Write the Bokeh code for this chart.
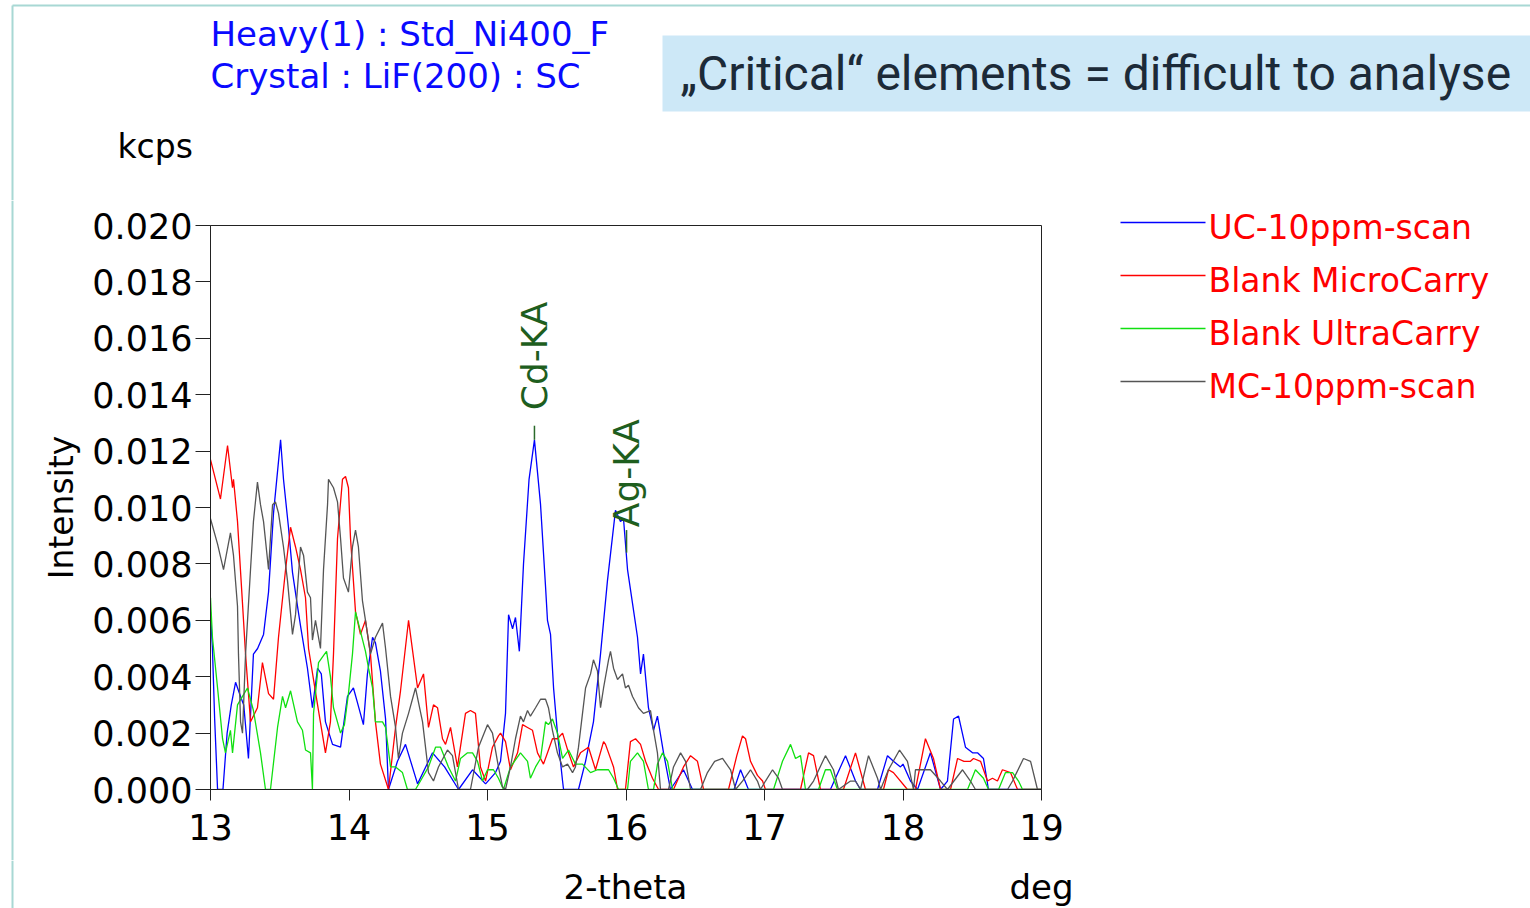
import math
from bokeh.plotting import figure
from bokeh.layouts import column, row
from bokeh.models import FixedTicker, NumeralTickFormatter, Range1d
from bokeh.core.properties import value
from bokeh.embed import file_html
from bokeh.resources import INLINE

# ---------------- data ----------------
x_ticks = [13, 14, 15, 16, 17, 18, 19]
y_ticks = [0.000, 0.002, 0.004, 0.006, 0.008, 0.010, 0.012, 0.014, 0.016, 0.018, 0.020]

series_names = ["UC-10ppm-scan", "Blank MicroCarry", "Blank UltraCarry", "MC-10ppm-scan"]
series_colors = ["#0000ff", "#ff0000", "#10e010", "#555555"]

uc_x = [13.000, 13.014, 13.030, 13.051, 13.090, 13.120, 13.150, 13.181, 13.217, 13.240, 13.274, 13.310, 13.340,
        13.383, 13.419, 13.455, 13.506, 13.527, 13.563, 13.592, 13.628, 13.650, 13.700, 13.736, 13.773, 13.800,
        13.830, 13.881, 13.939, 13.989, 14.032, 14.060, 14.104, 14.133, 14.170, 14.191, 14.227, 14.264, 14.285,
        14.350, 14.408, 14.495, 14.603, 14.690, 14.791, 14.892, 14.986, 15.058, 15.094, 15.130, 15.152, 15.181,
        15.202, 15.230, 15.260, 15.300, 15.339, 15.383, 15.419, 15.433, 15.455, 15.477, 15.505, 15.542, 15.549,
        15.657, 15.708, 15.765, 15.816, 15.866, 15.924, 15.960, 15.982, 16.011, 16.047, 16.083, 16.105, 16.126,
        16.162, 16.199, 16.227, 16.271, 16.321, 16.415, 16.480, 16.780, 16.827, 16.884, 17.476, 17.585, 17.657,
        17.693, 17.816, 17.888, 17.931, 17.982, 18.000, 18.054, 18.105, 18.198, 18.271, 18.321, 18.365, 18.401,
        18.451, 18.502, 18.538, 18.581, 18.617, 19.000]
uc_y = [0.0063, 0.0050, 0.0025, 0.0000, 0.0000, 0.0020, 0.0030, 0.0038, 0.0033, 0.0030, 0.0011, 0.0048, 0.0050,
        0.0055, 0.0070, 0.0098, 0.0124, 0.0110, 0.0093, 0.0077, 0.0065, 0.0058, 0.0043, 0.0029, 0.0043, 0.0041,
        0.0024, 0.0016, 0.0015, 0.0033, 0.0036, 0.0031, 0.0023, 0.0041, 0.0054, 0.0052, 0.0042, 0.0025, 0.0000,
        0.0010, 0.0016, 0.0002, 0.0013, 0.0008, 0.0000, 0.0007, 0.0002, 0.0006, 0.0010, 0.0027, 0.0062, 0.0057,
        0.0061, 0.0049, 0.0080, 0.0110, 0.0124, 0.0101, 0.0072, 0.0060, 0.0055, 0.0036, 0.0020, 0.0003, 0.0000,
        0.0000, 0.0010, 0.0024, 0.0048, 0.0074, 0.0099, 0.0095, 0.0096, 0.0078, 0.0066, 0.0054, 0.0041, 0.0048,
        0.0029, 0.0021, 0.0026, 0.0013, 0.0000, 0.0007, 0.0000, 0.0000, 0.0007, 0.0000, 0.0000, 0.0012, 0.0003,
        0.0000, 0.0000, 0.0012, 0.0010, 0.0008, 0.0009, 0.0003, 0.0000, 0.0013, 0.0000, 0.0003, 0.0025, 0.0026,
        0.0015, 0.0013, 0.0013, 0.0011, 0.0000, 0.0000]

mcb_x = [13.000, 13.072, 13.123, 13.159, 13.166, 13.195, 13.231, 13.253, 13.289, 13.339, 13.375, 13.419, 13.455,
         13.491, 13.542, 13.578, 13.614, 13.650, 13.686, 13.708, 13.773, 13.830, 13.866, 13.888, 13.917, 13.953,
         13.975, 13.996, 14.011, 14.047, 14.083, 14.119, 14.155, 14.191, 14.227, 14.285, 14.336, 14.372, 14.430,
         14.495, 14.538, 14.574, 14.610, 14.639, 14.675, 14.697, 14.733, 14.783, 14.841, 14.877, 14.913, 14.949,
         14.986, 15.036, 15.079, 15.094, 15.130, 15.166, 15.217, 15.253, 15.289, 15.325, 15.361, 15.404, 15.469,
         15.505, 15.542, 15.585, 15.621, 15.671, 15.729, 15.780, 15.838, 15.852, 15.910, 15.939, 15.996, 16.032,
         16.069, 16.105, 16.141, 16.191, 16.235, 16.343, 16.415, 16.466, 16.516, 16.560, 16.740, 16.800, 16.841,
         16.863, 16.899, 16.949, 16.986, 17.007, 17.260, 17.318, 17.354, 17.404, 17.570, 17.657, 17.729, 17.859,
         17.895, 17.931, 18.032, 18.090, 18.162, 18.220, 18.271, 18.343, 18.394, 18.440, 18.487, 18.509, 18.560,
         18.610, 18.646, 18.682, 18.718, 18.776, 18.827, 19.000]
mcb_y = [0.0117, 0.0103, 0.0122, 0.0107, 0.0110, 0.0095, 0.0066, 0.0048, 0.0024, 0.0029, 0.0045, 0.0034, 0.0032,
         0.0054, 0.0078, 0.0093, 0.0086, 0.0078, 0.0068, 0.0050, 0.0030, 0.0013, 0.0024, 0.0048, 0.0089, 0.0110,
         0.0111, 0.0107, 0.0089, 0.0063, 0.0055, 0.0060, 0.0048, 0.0024, 0.0009, 0.0000, 0.0022, 0.0035, 0.0060,
         0.0036, 0.0041, 0.0022, 0.0030, 0.0029, 0.0018, 0.0016, 0.0022, 0.0008, 0.0027, 0.0028, 0.0027, 0.0008,
         0.0003, 0.0015, 0.0019, 0.0020, 0.0017, 0.0007, 0.0013, 0.0023, 0.0022, 0.0021, 0.0013, 0.0009, 0.0018,
         0.0018, 0.0020, 0.0013, 0.0008, 0.0013, 0.0015, 0.0007, 0.0017, 0.0016, 0.0008, 0.0000, 0.0000, 0.0017,
         0.0018, 0.0016, 0.0010, 0.0004, 0.0000, 0.0000, 0.0008, 0.0012, 0.0010, 0.0000, 0.0000, 0.0012, 0.0019,
         0.0018, 0.0010, 0.0005, 0.0003, 0.0000, 0.0000, 0.0013, 0.0012, 0.0000, 0.0000, 0.0013, 0.0000, 0.0000,
         0.0007, 0.0006, 0.0000, 0.0000, 0.0018, 0.0011, 0.0000, 0.0000, 0.0011, 0.0010, 0.0010, 0.0011, 0.0010,
         0.0003, 0.0004, 0.0003, 0.0007, 0.0006, 0.0000, 0.0000]

ucb_x = [13.000, 13.014, 13.051, 13.087, 13.108, 13.144, 13.159, 13.195, 13.231, 13.267, 13.310, 13.361, 13.397,
         13.433, 13.484, 13.520, 13.542, 13.578, 13.628, 13.664, 13.686, 13.722, 13.736, 13.744, 13.780, 13.809,
         13.838, 13.866, 13.888, 13.939, 13.967, 13.996, 14.025, 14.047, 14.083, 14.119, 14.141, 14.170, 14.191,
         14.242, 14.264, 14.300, 14.336, 14.386, 14.422, 14.480, 14.516, 14.574, 14.625, 14.661, 14.718, 14.769,
         14.805, 14.856, 14.892, 14.928, 14.964, 15.000, 15.043, 15.079, 15.115, 15.166, 15.238, 15.289, 15.310,
         15.347, 15.383, 15.419, 15.440, 15.469, 15.505, 15.542, 15.585, 15.635, 15.686, 15.744, 15.794, 15.874,
         15.910, 15.946, 16.011, 16.032, 16.083, 16.126, 16.162, 16.199, 16.227, 16.264, 16.300, 16.336, 17.065,
         17.130, 17.188, 17.224, 17.260, 17.296, 17.390, 17.440, 17.476, 17.527, 18.466, 18.523, 18.581, 18.617,
         18.690, 18.740, 18.791, 18.834, 18.863, 19.000]
ucb_y = [0.0068, 0.0054, 0.0036, 0.0018, 0.0013, 0.0021, 0.0013, 0.0030, 0.0033, 0.0036, 0.0028, 0.0013, 0.0000,
         0.0000, 0.0022, 0.0033, 0.0029, 0.0035, 0.0024, 0.0021, 0.0014, 0.0013, 0.0000, 0.0027, 0.0045, 0.0047,
         0.0049, 0.0040, 0.0029, 0.0020, 0.0023, 0.0034, 0.0048, 0.0063, 0.0056, 0.0049, 0.0043, 0.0036, 0.0024,
         0.0024, 0.0022, 0.0008, 0.0008, 0.0006, 0.0000, 0.0000, 0.0003, 0.0008, 0.0015, 0.0015, 0.0008, 0.0003,
         0.0011, 0.0013, 0.0013, 0.0010, 0.0003, 0.0007, 0.0007, 0.0004, 0.0000, 0.0008, 0.0013, 0.0010, 0.0004,
         0.0008, 0.0011, 0.0024, 0.0023, 0.0025, 0.0020, 0.0011, 0.0014, 0.0009, 0.0009, 0.0006, 0.0007, 0.0007,
         0.0004, 0.0000, 0.0000, 0.0010, 0.0013, 0.0010, 0.0000, 0.0000, 0.0009, 0.0013, 0.0010, 0.0000, 0.0000,
         0.0010, 0.0016, 0.0011, 0.0012, 0.0000, 0.0000, 0.0007, 0.0007, 0.0000, 0.0000, 0.0007, 0.0004, 0.0000,
         0.0000, 0.0006, 0.0006, 0.0003, 0.0000, 0.0000]

mc_x = [13.000, 13.051, 13.094, 13.144, 13.166, 13.195, 13.202, 13.217, 13.231, 13.253, 13.289, 13.310, 13.339,
        13.361, 13.383, 13.419, 13.448, 13.469, 13.491, 13.527, 13.556, 13.592, 13.614, 13.650, 13.672, 13.700,
        13.722, 13.736, 13.758, 13.794, 13.816, 13.845, 13.852, 13.888, 13.917, 13.939, 13.960, 13.996, 14.025,
        14.047, 14.068, 14.097, 14.119, 14.155, 14.191, 14.242, 14.264, 14.300, 14.336, 14.357, 14.386, 14.430,
        14.480, 14.531, 14.574, 14.610, 14.646, 14.711, 14.747, 14.791, 14.877, 14.935, 15.000, 15.036, 15.079,
        15.108, 15.130, 15.166, 15.202, 15.238, 15.260, 15.289, 15.310, 15.347, 15.383, 15.419, 15.440, 15.469,
        15.505, 15.542, 15.578, 15.614, 15.635, 15.657, 15.686, 15.708, 15.744, 15.765, 15.794, 15.816, 15.838,
        15.874, 15.888, 15.910, 15.939, 15.975, 15.996, 16.018, 16.047, 16.090, 16.126, 16.177, 16.199, 16.227,
        16.249, 16.307, 16.343, 16.394, 16.430, 16.466, 16.538, 16.588, 16.640, 16.697, 16.755, 16.791, 16.841,
        16.899, 16.949, 16.971, 17.007, 17.058, 17.101, 17.130, 17.310, 17.354, 17.440, 17.498, 17.534, 17.621,
        17.657, 17.693, 17.751, 17.816, 17.838, 17.895, 17.975, 18.032, 18.076, 18.090, 18.198, 18.271, 18.321,
        18.430, 18.487, 18.523, 18.755, 18.791, 18.870, 18.921, 18.971, 19.000]
mc_y = [0.0096, 0.0087, 0.0078, 0.0091, 0.0083, 0.0065, 0.0048, 0.0024, 0.0020, 0.0048, 0.0078, 0.0095, 0.0109,
        0.0101, 0.0095, 0.0078, 0.0101, 0.0102, 0.0098, 0.0086, 0.0074, 0.0055, 0.0062, 0.0086, 0.0083, 0.0070,
        0.0068, 0.0053, 0.0060, 0.0050, 0.0078, 0.0101, 0.0110, 0.0107, 0.0102, 0.0089, 0.0075, 0.0070, 0.0086,
        0.0092, 0.0086, 0.0067, 0.0060, 0.0048, 0.0054, 0.0059, 0.0050, 0.0033, 0.0022, 0.0011, 0.0020, 0.0027,
        0.0036, 0.0024, 0.0006, 0.0003, 0.0008, 0.0014, 0.0012, 0.0000, 0.0000, 0.0015, 0.0023, 0.0020, 0.0008,
        0.0001, 0.0000, 0.0008, 0.0018, 0.0026, 0.0024, 0.0028, 0.0026, 0.0029, 0.0032, 0.0032, 0.0029, 0.0021,
        0.0013, 0.0008, 0.0009, 0.0006, 0.0008, 0.0015, 0.0027, 0.0036, 0.0041, 0.0046, 0.0042, 0.0029, 0.0036,
        0.0046, 0.0049, 0.0043, 0.0039, 0.0041, 0.0036, 0.0037, 0.0033, 0.0029, 0.0027, 0.0028, 0.0021, 0.0013,
        0.0000, 0.0000, 0.0008, 0.0013, 0.0010, 0.0000, 0.0000, 0.0006, 0.0010, 0.0011, 0.0007, 0.0000, 0.0003,
        0.0007, 0.0003, 0.0000, 0.0003, 0.0007, 0.0004, 0.0000, 0.0000, 0.0003, 0.0012, 0.0007, 0.0000, 0.0003,
        0.0003, 0.0000, 0.0012, 0.0004, 0.0000, 0.0007, 0.0014, 0.0010, 0.0000, 0.0007, 0.0007, 0.0003, 0.0000,
        0.0007, 0.0003, 0.0000, 0.0000, 0.0003, 0.0011, 0.0010, 0.0000, 0.0000]

marker_names = ["Cd-KA", "Ag-KA"]
marker_x = [15.339, 16.004]
marker_line_y0 = [0.0124, 0.0084]
marker_line_y1 = [0.0129, 0.0092]
marker_text_y = [0.01345, 0.00930]

header_lines = ["Heavy(1) : Std_Ni400_F", "Crystal : LiF(200) : SC"]
slide_title = "\u201eCritical\u201c elements = difficult to analyse"
y_unit = "kcps"
x_label = "2-theta"
x_unit = "deg"

FONT = "DejaVu Sans"
TEAL = "#a8d8d4"


def blank(w, h, x0, x1, y_top, y_bottom):
    """Plain drawing area whose coordinates are page pixels (y grows downward)."""
    f = figure(width=w, height=h, output_backend="svg", toolbar_location=None,
               x_range=Range1d(x0, x1), y_range=Range1d(y_bottom, y_top),
               x_axis_type=None, y_axis_type=None, min_border=0, frame_align=False)
    f.outline_line_color = None
    f.grid.visible = False
    f.background_fill_color = "white"
    f.border_fill_color = "white"
    return f


# ---------------- header strip ----------------
top = blank(1530, 200, 0, 1530, 0, 200)
top.segment(x0=[12, 12], y0=[5, 5], x1=[1530, 12], y1=[5, 200], line_color=TEAL, line_width=2)
top.quad(left=[662], right=[1530], top=[35], bottom=[111], fill_color="#cde8f7", line_alpha=0)
top.text(x=[680], y=[73], text=[slide_title], text_font=value("Roboto"), text_font_size="48px",
         text_color="#1c2a38", text_baseline="middle", text_align="left")
top.text(x=[210, 210], y=[33, 75], text=header_lines, text_font=value(FONT), text_font_size="34px",
         text_color="#0a0aff", text_baseline="middle", text_align="left")
top.text(x=[117], y=[146], text=[y_unit], text_font=value(FONT), text_font_size="33px",
         text_color="black", text_baseline="middle", text_align="left")

# ---------------- left strip ----------------
strip = blank(20, 660, 0, 20, 200, 860)
strip.segment(x0=[12], y0=[200], x1=[12], y1=[860], line_color=TEAL, line_width=2)

# ---------------- main chart ----------------
p = figure(width=1080, height=660, output_backend="svg", toolbar_location=None,
           x_range=Range1d(13, 19), y_range=Range1d(0, 0.020), frame_align=False,
           min_border_left=190, min_border_right=59, min_border_top=25, min_border_bottom=71)
p.background_fill_color = "white"
p.border_fill_color = "white"
p.outline_line_color = "#222222"
p.outline_line_width = 1
p.xgrid.visible = False
p.ygrid.visible = False

p.xaxis.ticker = FixedTicker(ticks=x_ticks)
p.yaxis.ticker = FixedTicker(ticks=y_ticks)
p.yaxis.formatter = NumeralTickFormatter(format="0.000")
for ax in (p.xaxis, p.yaxis):
    ax.major_label_text_font = FONT
    ax.major_label_text_font_size = "35px"
    ax.major_label_text_color = "black"
    ax.axis_line_color = "#222222"
    ax.major_tick_line_color = "#222222"
    ax.minor_tick_line_color = None
    ax.major_tick_in = 0
p.xaxis.major_tick_out = 11
p.xaxis.major_label_standoff = 13
p.yaxis.major_tick_out = 15
p.yaxis.major_label_standoff = 3
p.yaxis.axis_label = "Intensity"
p.yaxis.axis_label_text_font = FONT
p.yaxis.axis_label_text_font_size = "33px"
p.yaxis.axis_label_text_font_style = "normal"
p.yaxis.axis_label_text_color = "black"
p.yaxis.axis_label_standoff = 8

for xs, ys, c in zip([uc_x, mcb_x, ucb_x, mc_x], [uc_y, mcb_y, ucb_y, mc_y], series_colors):
    p.line(xs, ys, line_color=c, line_width=1.3)

p.segment(x0=marker_x, y0=marker_line_y0, x1=marker_x, y1=marker_line_y1, line_color="#2a6a2a", line_width=1.5)
p.text(x=marker_x, y=marker_text_y, text=marker_names, angle=math.pi / 2, text_align="left",
       text_baseline="middle", text_font=value(FONT), text_font_size="36px", text_color="#1e5e1e")

# ---------------- legend strip ----------------
leg = blank(430, 660, 1100, 1530, 200, 860)
row_y = [222, 275, 328, 381]
leg.segment(x0=[1120] * 4, y0=row_y, x1=[1205] * 4, y1=row_y, line_color=series_colors, line_width=1.3)
leg.text(x=[1208] * 4, y=[ry + 5 for ry in row_y], text=series_names, text_font=value(FONT),
         text_font_size="33px", text_color="#ff0000", text_baseline="middle", text_align="left")

# ---------------- bottom strip ----------------
bottom = blank(1530, 48, 0, 1530, 860, 908)
bottom.segment(x0=[12], y0=[860], x1=[12], y1=[908], line_color=TEAL, line_width=2)
bottom.text(x=[625, 1041], y=[886, 886], text=[x_label, x_unit], text_font=value(FONT), text_font_size="34px",
            text_color="black", text_baseline="middle", text_align="center")

layout = column(top, row(strip, p, leg), bottom)
open("out.html", "w").write(file_html(layout, INLINE))
